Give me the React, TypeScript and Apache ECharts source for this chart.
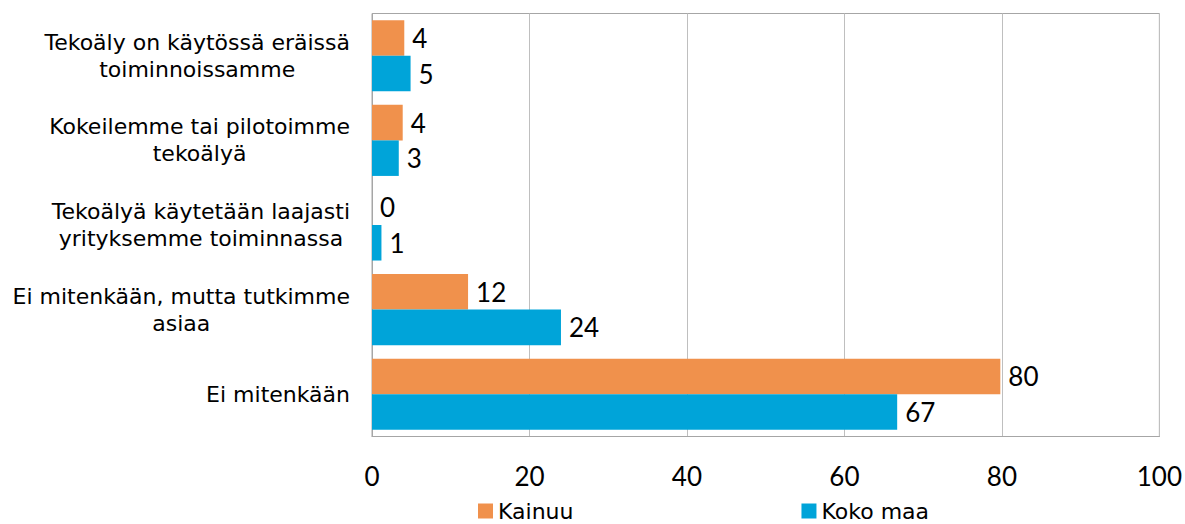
import React, { useEffect, useRef } from "react";
import * as echarts from "echarts";

const categories = [
  "Tekoäly on käytössä eräissä\ntoiminnoissamme",
  "Kokeilemme tai pilotoimme\ntekoälyä",
  "Tekoälyä käytetään laajasti\nyrityksemme toiminnassa",
  "Ei mitenkään, mutta tutkimme\nasiaa",
  "Ei mitenkään",
];
const kainuu = [4.1, 3.9, 0, 12.2, 79.8];
const kokoMaa = [4.9, 3.4, 1.2, 24.0, 66.7];
const seriesNames = ["Kainuu", "Koko maa"];
const xTicks = { min: 0, max: 100, interval: 20 };

const ORANGE = "#F0914C";
const BLUE = "#00A4D9";
const catFont = "DejaVu Sans";
const numFont = "Lato";

export default function App() {
  const ref = useRef<HTMLDivElement>(null);
  useEffect(() => {
    if (!ref.current) return;
    const chart = echarts.init(ref.current, null, { renderer: "svg" });
    const valueLabel = {
      show: true,
      position: "right",
      distance: 8,
      fontFamily: numFont,
      fontSize: 26,
      color: "#000",
      formatter: (p: any) => String(Math.round(p.value)),
    };
    chart.setOption({
      animation: false,
      backgroundColor: "#fff",
      grid: { left: 372, right: 25, top: 13.5, bottom: 87.5, show: true, borderColor: "#A6A6A6", borderWidth: 1 },
      xAxis: {
        type: "value",
        min: xTicks.min,
        max: xTicks.max,
        interval: xTicks.interval,
        axisLine: { show: true, lineStyle: { color: "#A6A6A6" } },
        axisTick: { show: false },
        splitLine: { show: true, lineStyle: { color: "#BFBFBF", width: 1 } },
        axisLabel: { fontFamily: numFont, fontSize: 26, color: "#000", margin: 26 },
      },
      yAxis: {
        type: "category",
        inverse: true,
        data: categories,
        axisLine: { show: true, lineStyle: { color: "#A6A6A6" } },
        axisTick: { show: false },
        axisLabel: {
          margin: 22,
          align: "right",
          lineHeight: 27,
          formatter: (v: string) => v.split("\n").map((l) => `{c|${l}}`).join("\n"),
          rich: { c: { align: "center", fontFamily: catFont, fontSize: 22, color: "#000", lineHeight: 27 } },
        },
      },
      legend: {
        data: seriesNames,
        left: 473,
        top: 495,
        icon: "rect",
        itemWidth: 15,
        itemHeight: 15,
        itemGap: 228,
        textStyle: { fontFamily: catFont, fontSize: 22, lineHeight: 22, color: "#000" },
      },
      series: [
        { name: seriesNames[0], type: "bar", data: kainuu, itemStyle: { color: ORANGE }, barGap: "0%", barCategoryGap: "16%", label: valueLabel },
        { name: seriesNames[1], type: "bar", data: kokoMaa, itemStyle: { color: BLUE }, barGap: "0%", barCategoryGap: "16%", label: valueLabel },
      ],
    });
    return () => chart.dispose();
  }, []);
  return <div ref={ref} style={{ position: "fixed", left: 0, top: 0, width: 1185, height: 524 }} />;
}
